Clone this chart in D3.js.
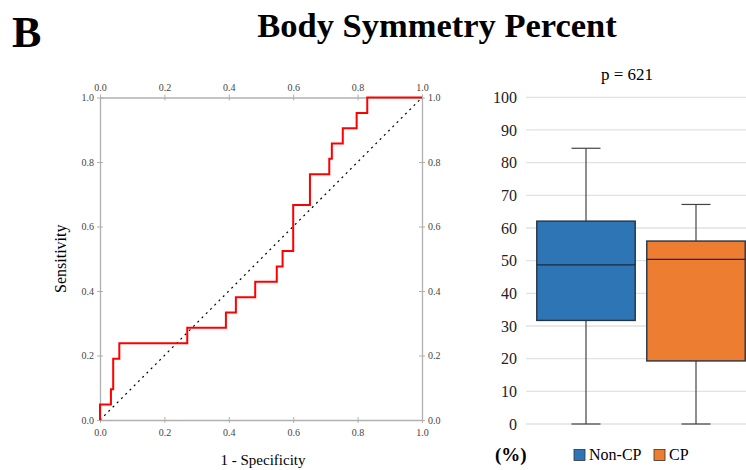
<!DOCTYPE html>
<html><head><meta charset="utf-8">
<script src="https://cdn.jsdelivr.net/npm/d3@7"></script>
<style>body{margin:0;background:#fff}svg{display:block}</style>
</head><body>
<svg id="c" width="746" height="470"></svg>
<script>
// ROC curve points (1 - specificity, sensitivity), step path
const rocFpr = [0, 0, 0.034, 0.034, 0.041, 0.041, 0.060, 0.060, 0.271, 0.271, 0.391, 0.391, 0.422, 0.422, 0.482, 0.482, 0.549, 0.549, 0.567, 0.567, 0.600, 0.600, 0.652, 0.652, 0.712, 0.712, 0.720, 0.720, 0.754, 0.754, 0.797, 0.797, 0.830, 0.830, 1.0];
const rocTpr = [0, 0.048, 0.048, 0.095, 0.095, 0.190, 0.190, 0.238, 0.238, 0.286, 0.286, 0.333, 0.333, 0.381, 0.381, 0.429, 0.429, 0.476, 0.476, 0.524, 0.524, 0.667, 0.667, 0.762, 0.762, 0.810, 0.810, 0.857, 0.857, 0.905, 0.905, 0.952, 0.952, 1.0, 1.0];
const rocTicks = [0, 0.2, 0.4, 0.6, 0.8, 1.0];

// Box plot
const groups = ["Non-CP", "CP"];
const boxMin = [0, 0];
const boxQ1 = [31.7, 19.3];
const boxMedian = [48.7, 50.4];
const boxQ3 = [62.1, 56.0];
const boxMax = [84.4, 67.2];
const boxColors = ["#2E75B6", "#ED7D31"];
const boxTicks = [0, 10, 20, 30, 40, 50, 60, 70, 80, 90, 100];

const svg = d3.select("#c");
const serif = "'Liberation Serif','DejaVu Serif',serif";

// Titles
svg.append("text").attr("x", 12).attr("y", 47).attr("font-family", serif)
  .attr("font-weight", "bold").attr("font-size", 44).text("B");
svg.append("text").attr("x", 437).attr("y", 37).attr("text-anchor", "middle")
  .attr("font-family", serif).attr("font-weight", "bold").attr("font-size", 34.5)
  .text("Body Symmetry Percent");

// ROC panel
const x = d3.scaleLinear().domain([0, 1]).range([100, 422]);
const y = d3.scaleLinear().domain([0, 1]).range([420, 97.5]);
const g = svg.append("g");
const fmt = d3.format(".1f");

function styleAxis(sel) {
  sel.attr("font-family", serif);
  sel.selectAll(".domain").attr("stroke", "#b0b0b0").attr("stroke-width", 1.3);
  sel.selectAll(".tick line").attr("stroke", "#b0b0b0");
  sel.selectAll(".tick text").attr("fill", "#444").attr("font-family", serif).attr("font-size", 10);
}
const axB = g.append("g").attr("transform", `translate(0,${y(0)})`)
  .call(d3.axisBottom(x).tickValues(rocTicks).tickFormat(fmt).tickSizeInner(3).tickSizeOuter(0).tickPadding(6));
const axT = g.append("g").attr("transform", `translate(0,${y(1)})`)
  .call(d3.axisTop(x).tickValues(rocTicks).tickFormat(fmt).tickSizeInner(3).tickSizeOuter(0).tickPadding(4));
const axL = g.append("g").attr("transform", `translate(${x(0)},0)`)
  .call(d3.axisLeft(y).tickValues(rocTicks).tickFormat(fmt).tickSizeInner(3).tickSizeOuter(0).tickPadding(3));
const axR = g.append("g").attr("transform", `translate(${x(1)},0)`)
  .call(d3.axisRight(y).tickValues(rocTicks).tickFormat(fmt).tickSizeInner(3).tickSizeOuter(0).tickPadding(3));
[axB, axT, axL, axR].forEach(styleAxis);
// ticks crossing axis
axB.selectAll(".tick line").attr("y1", -3).attr("y2", 3);
axT.selectAll(".tick line").attr("y1", 3).attr("y2", -3);
axL.selectAll(".tick line").attr("x1", 3).attr("x2", -3);
axR.selectAll(".tick line").attr("x1", -3).attr("x2", 3);

// diagonal
g.append("line").attr("x1", x(0)).attr("y1", y(0)).attr("x2", x(1)).attr("y2", y(1))
  .attr("stroke", "#000").attr("stroke-width", 1.2).attr("stroke-dasharray", "2,4");

// ROC line
const line = d3.line().x((d, i) => x(rocFpr[i])).y((d, i) => y(rocTpr[i]));
g.append("path").datum(rocFpr).attr("d", line).attr("fill", "none")
  .attr("stroke", "#ff0000").attr("stroke-width", 2);

g.append("text").attr("transform", `translate(66,${(y(0) + y(1)) / 2}) rotate(-90)`)
  .attr("text-anchor", "middle").attr("font-family", serif).attr("font-size", 16).text("Sensitivity");
g.append("text").attr("x", 263).attr("y", 465).attr("text-anchor", "middle")
  .attr("font-family", serif).attr("font-size", 15).text("1 - Specificity");

// Box panel
const by = d3.scaleLinear().domain([0, 100]).range([424, 97.3]);
const bx = d3.scaleBand().domain(groups).range([531, 751]).padding(0);
const bg = svg.append("g");

bg.selectAll(".grid").data(boxTicks).join("line")
  .attr("x1", 526).attr("x2", 746).attr("y1", d => by(d)).attr("y2", d => by(d))
  .attr("stroke", "#e2e2e2").attr("stroke-width", 1.3);
bg.selectAll(".ylab").data(boxTicks).join("text")
  .attr("x", 517).attr("y", d => by(d)).attr("dy", "0.35em").attr("text-anchor", "end")
  .attr("font-family", serif).attr("font-size", 16).attr("fill", "#222").text(d => d);

const boxW = bx.bandwidth() * 0.895;
const capW = 29;
groups.forEach((gname, i) => {
  const cx = bx(gname) + bx.bandwidth() / 2;
  bg.append("line").attr("x1", cx).attr("x2", cx).attr("y1", by(boxMax[i])).attr("y2", by(boxQ3[i]))
    .attr("stroke", "#444").attr("stroke-width", 1.2);
  bg.append("line").attr("x1", cx).attr("x2", cx).attr("y1", by(boxQ1[i])).attr("y2", by(boxMin[i]))
    .attr("stroke", "#444").attr("stroke-width", 1.2);
  bg.append("line").attr("x1", cx - capW / 2).attr("x2", cx + capW / 2).attr("y1", by(boxMax[i])).attr("y2", by(boxMax[i]))
    .attr("stroke", "#444").attr("stroke-width", 1.2);
  bg.append("line").attr("x1", cx - capW / 2).attr("x2", cx + capW / 2).attr("y1", by(boxMin[i])).attr("y2", by(boxMin[i]))
    .attr("stroke", "#444").attr("stroke-width", 1.2);
  bg.append("rect").attr("x", cx - boxW / 2).attr("width", boxW)
    .attr("y", by(boxQ3[i])).attr("height", by(boxQ1[i]) - by(boxQ3[i]))
    .attr("fill", boxColors[i]).attr("stroke", "#233447").attr("stroke-width", 1.4);
  bg.append("line").attr("x1", cx - boxW / 2).attr("x2", cx + boxW / 2)
    .attr("y1", by(boxMedian[i])).attr("y2", by(boxMedian[i]))
    .attr("stroke", "#1c2b3a").attr("stroke-width", 1.4);
});

bg.append("text").attr("x", 627).attr("y", 80).attr("text-anchor", "middle")
  .attr("font-family", serif).attr("font-size", 17).text("p = 621");

// legend
bg.append("text").attr("x", 495).attr("y", 461).attr("font-family", serif)
  .attr("font-weight", "bold").attr("font-size", 19).text("(%)");
const legX = [574, 654];
groups.forEach((gname, i) => {
  bg.append("rect").attr("x", legX[i]).attr("y", 449.5).attr("width", 11).attr("height", 11)
    .attr("fill", boxColors[i]).attr("stroke", "#333").attr("stroke-width", 0.8);
  bg.append("text").attr("x", legX[i] + 15).attr("y", 460).attr("font-family", serif)
    .attr("font-size", 16).text(gname);
});
</script>
</body></html>
